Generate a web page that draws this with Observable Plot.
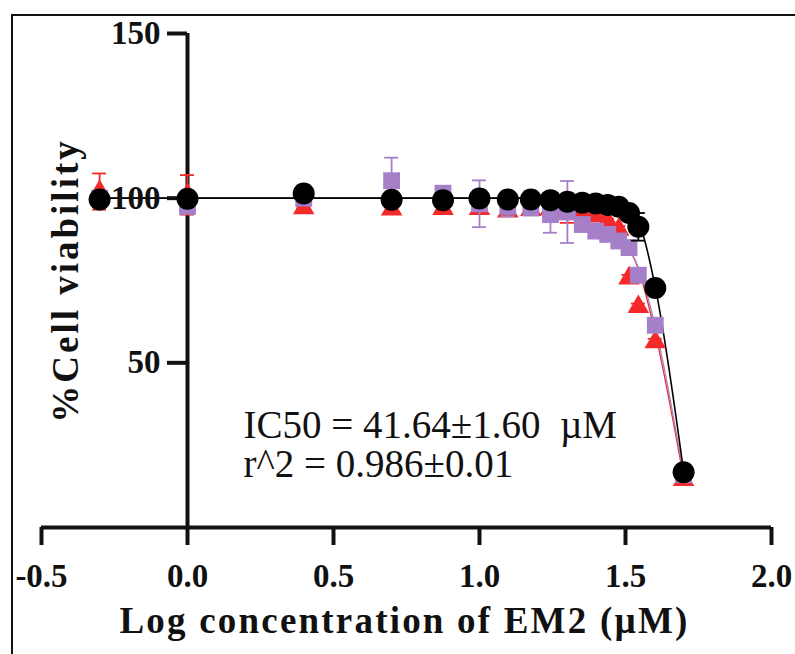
<!DOCTYPE html>
<html><head><meta charset="utf-8">
<script src="https://cdn.jsdelivr.net/npm/d3@7"></script>
<script src="https://cdn.jsdelivr.net/npm/@observablehq/plot@0.6"></script>
<style>
html,body{margin:0;padding:0;background:#fff;overflow:hidden;width:795px;height:654px}
#border{position:absolute;left:11px;top:14px;width:900px;height:800px;border-left:2.5px solid #111;border-top:2.5px solid #111;}
#chart{position:absolute;left:0;top:0}
</style></head><body>
<div id="border"></div>
<div id="chart"></div>
<script>
// log10 concentration of EM2 (µM)
const logConc = [-0.301, 0, 0.398, 0.699, 0.875, 1, 1.097, 1.176, 1.243, 1.301, 1.352, 1.398, 1.439, 1.477, 1.512, 1.544, 1.602, 1.699];
// % cell viability, mean and SD per replicate set
const redMean = [102, 101, 97, 96.6, 96.8, 96.8, 96, 96.5, 96.8, 96, 95.5, 94.5, 93, 90.5, 75.7, 67, 56.3, 14.5];
const redSD = [5.5, 6, 0.5, 1.2, 0.8, 0.5, 1, 0.5, 0.5, 3.5, 0.8, 0.8, 0.8, 1, 1, 1, 1, 0.8];
const purpleMean = [100, 97.5, 100, 105.3, 101.5, 98.3, 97.5, 97, 95, 95.8, 92, 90, 89, 87, 85, 76.6, 61.4, 16];
const purpleSD = [1, 1.5, 1, 7, 1.5, 7.1, 3, 1, 5.5, 9.4, 1, 1, 1, 1, 1, 1, 1, 1];
const blackMean = [99.6, 99.8, 101.4, 99.5, 99.4, 99.9, 99.6, 99.6, 99.4, 98.9, 98.6, 98.4, 97.9, 97.4, 95.5, 91.3, 72.7, 16.8];
const blackSD = [0.8, 0.8, 0.8, 0.8, 0.5, 0.5, 0.5, 0.5, 0.5, 0.5, 0.5, 0.5, 0.5, 0.5, 0.5, 4.2, 0.5, 0.5];
// fitted dose-response curves at the same x
const redFit = [100, 100, 100, 100, 100, 100, 100, 100, 99.5, 98.8, 97.8, 96, 93.5, 90, 85, 78.5, 59, 15];
const purpleFit = [100, 100, 100, 100, 100, 100, 100, 99.7, 99, 98, 96.5, 94.3, 91.8, 88.5, 84.5, 79, 61, 16];
const blackFit = [100, 100, 100, 100, 100, 100, 100, 100, 100, 99.7, 99.3, 98.7, 97.9, 96.8, 95.2, 92.8, 73, 17];

const xTicks = [-0.5, 0, 0.5, 1, 1.5, 2];
const yTicks = [50, 100, 150];
const xTitle = ["Log concentration of EM2 (\u00b5M)"];
const yTitle = ["%Cell viability"];
const noteLine1 = ["IC50 = 41.64\u00b11.60\u00a0 \u00b5M"];
const noteLine2 = ["r^2 = 0.986\u00b10.01"];

const RED = "#f42a2a", PURPLE = "#a67fc9", BLACK = "#000000";

const rows = (mean, sd, fit) => logConc.map((x, i) => ({x, m: mean[i], lo: mean[i] - sd[i], hi: mean[i] + sd[i], fit: fit[i]}));
const red = rows(redMean, redSD, redFit);
const purple = rows(purpleMean, purpleSD, purpleFit);
const black = rows(blackMean, blackSD, blackFit);

function errorMarks(data, color) {
  return [
    Plot.ruleX(data, {x: "x", y1: "lo", y2: "hi", stroke: color, strokeWidth: 1.8}),
    Plot.ruleY(data, {x1: "x", x2: "x", y: "hi", stroke: color, strokeWidth: 1.8, insetLeft: -7, insetRight: -7}),
    Plot.ruleY(data, {x1: "x", x2: "x", y: "lo", stroke: color, strokeWidth: 1.8, insetLeft: -7, insetRight: -7})
  ];
}

const plot = Plot.plot({
  width: 795, height: 654,
  marginTop: 33, marginBottom: 127, marginLeft: 41, marginRight: 24,
  x: {domain: [-0.5, 2]},
  y: {domain: [0, 150], axis: null},
  style: {fontFamily: "'Liberation Serif', 'Times New Roman', serif", background: "transparent", overflow: "visible", color: "#111"},
  marks: [
    // fitted curves
    Plot.line(red, {x: "x", y: "fit", stroke: RED, strokeWidth: 1.3, curve: "monotone-x"}),
    Plot.line(purple, {x: "x", y: "fit", stroke: PURPLE, strokeWidth: 1.3, curve: "monotone-x"}),
    Plot.line(black, {x: "x", y: "fit", stroke: BLACK, strokeWidth: 1.6, curve: "monotone-x"}),
    // axes
    Plot.ruleY([0], {stroke: "#111", strokeWidth: 4}),
    Plot.ruleX([0], {y1: 0, y2: 150, stroke: "#111", strokeWidth: 4}),
    Plot.ruleY(yTicks, {y: d => d, x1: 0, x2: 0, insetLeft: -20, stroke: "#111", strokeWidth: 4}),
    Plot.text(yTicks, {y: d => d, x: 0, dx: -27, text: d => String(d), textAnchor: "end", fontSize: 33, fontWeight: "bold", fill: "#111"}),
    Plot.axisX(xTicks, {tickSize: 18, tickPadding: 18, strokeWidth: 4, stroke: "#111", tickFormat: d => d.toFixed(1), fontSize: 33, fontWeight: "bold", label: null}),
    // data
    ...errorMarks(red, RED),
    Plot.dot(red, {x: "x", y: "m", symbol: "triangle", r: 8, fill: RED, stroke: "none"}),
    ...errorMarks(purple, PURPLE),
    Plot.dot(purple, {x: "x", y: "m", symbol: "square", r: 9.5, fill: PURPLE, stroke: "none"}),
    ...errorMarks(black, BLACK),
    Plot.dot(black, {x: "x", y: "m", symbol: "circle", r: 11, fill: BLACK, stroke: "none"}),
    // titles and annotation
    Plot.text(yTitle, {text: d => d, frameAnchor: "left", textAnchor: "middle", dx: 25, rotate: -90, fontSize: 37, fontWeight: "bold", fill: "#111"}),
    Plot.text(xTitle, {text: d => d, frameAnchor: "bottom", dx: -2, dy: 105, fontSize: 37, fontWeight: "bold", fill: "#111"}),
    Plot.text(noteLine1, {text: d => d, frameAnchor: "top-left", dx: 202, dy: 377, textAnchor: "start", fontSize: 39, fill: "#111"}),
    Plot.text(noteLine2, {text: d => d, frameAnchor: "top-left", dx: 202, dy: 416, textAnchor: "start", fontSize: 39, fill: "#111"})
  ]
});
document.getElementById("chart").appendChild(plot);
d3.select(plot).selectAll("text").each(function() {
  const t = this.textContent;
  if (t === yTitle[0]) this.setAttribute("letter-spacing", "3px");
  if (t === xTitle[0]) this.setAttribute("letter-spacing", "2.2px");
});
</script>
</body></html>
